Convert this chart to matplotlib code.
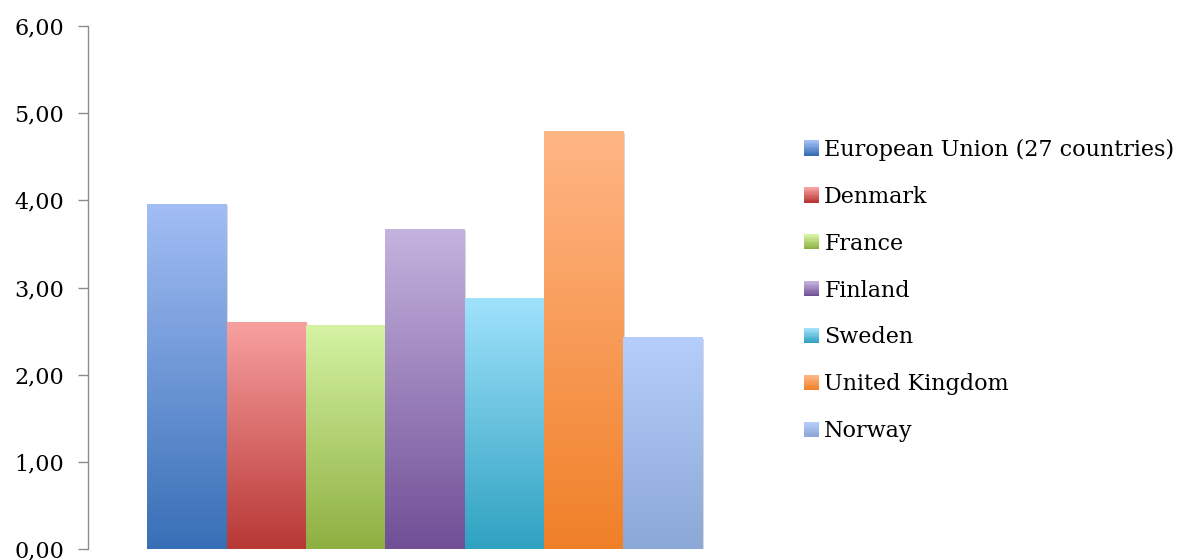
import matplotlib
import numpy as np
from matplotlib import patheffects
from matplotlib import pyplot as plt
from matplotlib.colors import LinearSegmentedColormap
from matplotlib.legend_handler import HandlerBase
from matplotlib.patches import Rectangle
from matplotlib.ticker import FuncFormatter

matplotlib.rcParams["font.family"] = ["DejaVu Serif"]

countries = [
    "European Union (27 countries)",
    "Denmark",
    "France",
    "Finland",
    "Sweden",
    "United Kingdom",
    "Norway",
]
values = [3.95, 2.60, 2.56, 3.67, 2.875, 4.79, 2.43]

# (top, bottom) colour of each bar's vertical gradient
top_colors = ["#a3bef5", "#f8a0a0", "#d5f3a3", "#c5b3df", "#a0e2fc", "#ffb685", "#b5cefc"]
bottom_colors = ["#376fb6", "#b83835", "#8eb042", "#704f96", "#2fa2c1", "#f08028", "#8ca8d7"]


class GradientHandler(HandlerBase):
    def __init__(self, top, bottom):
        super().__init__()
        self.top = top
        self.bottom = bottom

    def create_artists(self, legend, orig_handle, xdescent, ydescent,
                       width, height, fontsize, trans):
        size = fontsize * 0.68
        x0 = width - size - xdescent
        y0 = (height - size) / 2 - ydescent
        cmap = LinearSegmentedColormap.from_list("g", [self.bottom, self.top])
        n = 12
        arts = []
        for k in range(n):
            arts.append(Rectangle((x0, y0 + k * size / n), size, size / n + 0.2,
                                  facecolor=cmap(k / (n - 1)), edgecolor="none",
                                  transform=trans))
        return arts


fig = plt.figure(figsize=(11.79, 5.6), dpi=100)
ax = fig.add_axes([0.0746, 0.0196, 0.5717, 0.934])

n = len(values)
w = 1.0 / (n + 1.5)
xs = [(i - (n - 1) / 2) * w for i in range(n)]
shadow = [patheffects.SimplePatchShadow(offset=(1.2, -1.2), shadow_rgbFace="k", alpha=0.15)]
bars = ax.bar(xs, values, width=w, facecolor="none", edgecolor="none", zorder=2)

grad = np.linspace(0, 1, 256).reshape(-1, 1)
for bar, top, bot in zip(bars, top_colors, bottom_colors):
    bar.set_path_effects(shadow)
    x, y = bar.get_x(), bar.get_y()
    cmap = LinearSegmentedColormap.from_list("bar", [bot, top])
    ax.imshow(grad, extent=(x, x + bar.get_width(), y, y + bar.get_height()),
              origin="lower", aspect="auto", cmap=cmap, zorder=3,
              interpolation="bilinear")

ax.set_xlim(-0.5, 0.5)
ax.set_ylim(0, 6)
ax.set_yticks(range(7))
ax.yaxis.set_major_formatter(FuncFormatter(lambda v, p: f"{v:.2f}".replace(".", ",")))
ax.tick_params(axis="y", length=7, width=1, color="#8c8c8c", pad=10, labelsize=16)
ax.tick_params(axis="x", bottom=False, labelbottom=False)
for side in ("top", "right", "bottom"):
    ax.spines[side].set_visible(False)
ax.spines["left"].set_color("#8c8c8c")
ax.spines["left"].set_linewidth(1)

handles = [Rectangle((0, 0), 1, 1) for _ in countries]
handler_map = {h: GradientHandler(t, b) for h, t, b in zip(handles, top_colors, bottom_colors)}
fig.legend(handles, countries, handler_map=handler_map, loc="upper left",
           bbox_to_anchor=(0.6737, 0.768), frameon=False, fontsize=16,
           handlelength=0.7, handletextpad=0.25, labelspacing=1.12,
           borderaxespad=0)

fig.savefig("out.png", dpi=100)
